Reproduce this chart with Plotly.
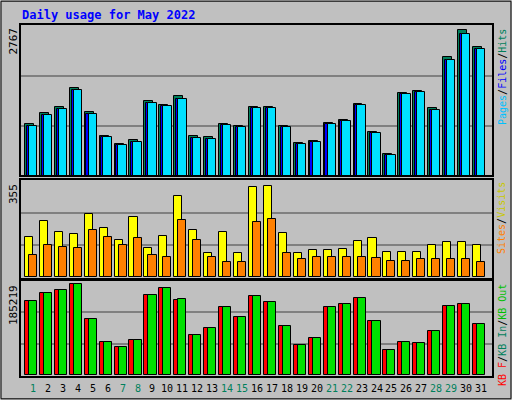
import plotly.graph_objects as go

days = list(range(1, 32))
day_labels = [str(d) for d in days]
weekend = {1, 7, 8, 14, 15, 21, 22, 28, 29}

hits = [989, 1191, 1319, 1667, 1209, 769, 605, 678, 1429, 1356, 1521, 751, 733, 989, 953,
        1319, 1319, 953, 623, 660, 1008, 1063, 1374, 843, 421, 1576, 1612, 1283, 2254, 2767, 2455]
files = [950, 1150, 1280, 1630, 1170, 735, 580, 645, 1390, 1330, 1470, 720, 710, 965, 935,
         1300, 1300, 930, 600, 640, 990, 1040, 1340, 820, 400, 1550, 1590, 1250, 2210, 2700, 2420]
pages = [950, 1150, 1280, 1630, 1170, 735, 580, 645, 1390, 1330, 1470, 720, 710, 965, 935,
         1300, 1300, 930, 600, 640, 990, 1040, 1340, 820, 400, 1550, 1590, 1250, 2210, 2700, 2420]
visits = [153, 213, 172, 164, 239, 187, 142, 228, 112, 157, 310, 179, 93, 172, 93,
          344, 348, 168, 93, 101, 101, 108, 138, 149, 97, 97, 97, 120, 135, 135, 120]
sites = [82, 120, 116, 112, 179, 153, 120, 149, 82, 78, 217, 142, 78, 56, 56,
         209, 220, 90, 67, 75, 75, 75, 75, 71, 60, 60, 67, 67, 67, 67, 56]
kb_in = [148962, 165066, 171105, 183183, 112728, 66429, 56364, 70455, 161040, 175131, 150975,
         80520, 94611, 136884, 116754, 159027, 146949, 98637, 60390, 74481, 136884, 142923,
         155001, 108702, 50325, 66429, 64416, 88572, 138897, 142923, 102663]
kb_out = [148000, 165066, 171105, 183183, 112728, 66429, 56000, 70455, 161040, 175131, 152500,
          80520, 94611, 136884, 116754, 159027, 146949, 98637, 60390, 74481, 136884, 142923,
          155001, 108702, 50325, 66429, 64416, 88572, 138897, 142923, 103500]
max_hits, max_visits, max_kb = 2767, 355, 185219

fig = go.Figure()
def bar(y, color, off, w, ax):
    fig.add_trace(go.Bar(x=days, y=y, marker=dict(color=color, line=dict(color="black", width=1)),
                         offset=off, width=w, xaxis="x", yaxis=ax, showlegend=False, hoverinfo="skip"))
bar(hits, "#00805c", -0.54, 0.6, "y")
bar(pages, "#0000ff", -0.42, 0.6, "y")
bar(files, "#00e0ff", -0.28, 0.56, "y")
bar(visits, "#ffff00", -0.54, 0.54, "y2")
bar(sites, "#ff8000", -0.27, 0.54, "y2")
bar(kb_in, "#ff0000", -0.54, 0.6, "y3")
bar(kb_out, "#00e000", -0.27, 0.54, "y3")

mono = "DejaVu Sans Mono"
def yax(dom, mx):
    return dict(domain=dom, range=[0, mx], showticklabels=False, tickvals=[mx/3, 2*mx/3],
                showgrid=True, gridcolor="#808080", gridwidth=1.5, zeroline=False, fixedrange=True)

fig.update_layout(
    width=512, height=400, margin=dict(l=0, r=0, t=0, b=0),
    paper_bgcolor="#c0c0c0", plot_bgcolor="#c0c0c0", barmode="overlay", bargap=0,
    xaxis=dict(domain=[20/512, 493/512], range=[0.13, 31.8], tickvals=[], showgrid=False,
               zeroline=False, fixedrange=True),
    yaxis=yax([224/400, 374/400], max_hits * 1.03),
    yaxis2=yax([123/400, 219/400], max_visits * 1.03),
    yaxis3=yax([25/400, 119/400], max_kb * 1.02),
    font=dict(family=mono),
)
shapes = [dict(type="rect", xref="paper", yref="paper", x0=0.002, x1=0.998, y0=0.003, y1=0.997,
               line=dict(color="black", width=1))]
for y0, y1 in [(224, 376), (121, 221), (23, 120)]:
    shapes.append(dict(type="rect", xref="paper", yref="paper", x0=20/512, x1=493/512,
                       y0=y0/400, y1=y1/400, line=dict(color="black", width=2)))
fig.update_layout(shapes=shapes)

ann = [dict(text="<b>Daily usage for May 2022</b>", x=20/512, y=1-15/400, xref="paper", yref="paper",
            xanchor="left", yanchor="middle", showarrow=False, font=dict(color="#0000ff", size=12, family=mono))]
for txt, ytop in [(str(max_hits), 26), (str(max_visits), 182), (str(max_kb), 283)]:
    ann.append(dict(text=txt, x=13/512, y=1-ytop/400, xref="paper", yref="paper", textangle=-90,
                    xanchor="center", yanchor="top", showarrow=False, font=dict(size=11, color="black")))
rt = [
    ('<span style="color:#00c0ff">Pages</span>/<span style="color:#0000ff">Files</span>/<span style="color:#00805c">Hits</span>', 27),
    ('<span style="color:#ff8000">Sites</span>/<span style="color:#c8c800">Visits</span>', 180),
    ('<span style="color:#ff0000">KB F</span>/<span style="color:#00805c">KB In</span>/<span style="color:#00c000">KB Out</span>', 282),
]
for txt, ytop in rt:
    ann.append(dict(text=txt, x=502/512, y=1-ytop/400, xref="paper", yref="paper", textangle=-90,
                    xanchor="center", yanchor="top", showarrow=False, font=dict(size=10, color="black")))
for d, lab in zip(days, day_labels):
    ann.append(dict(text=lab, x=d, y=1-388/400, xref="x", yref="paper", showarrow=False,
                    xanchor="center", yanchor="middle",
                    font=dict(size=10, color="#00805c" if d in weekend else "black")))
fig.update_layout(annotations=ann)
fig.write_html("out.html", config={"displayModeBar": False},
               post_script="document.body.style.margin='0';document.body.style.overflow='hidden';")
